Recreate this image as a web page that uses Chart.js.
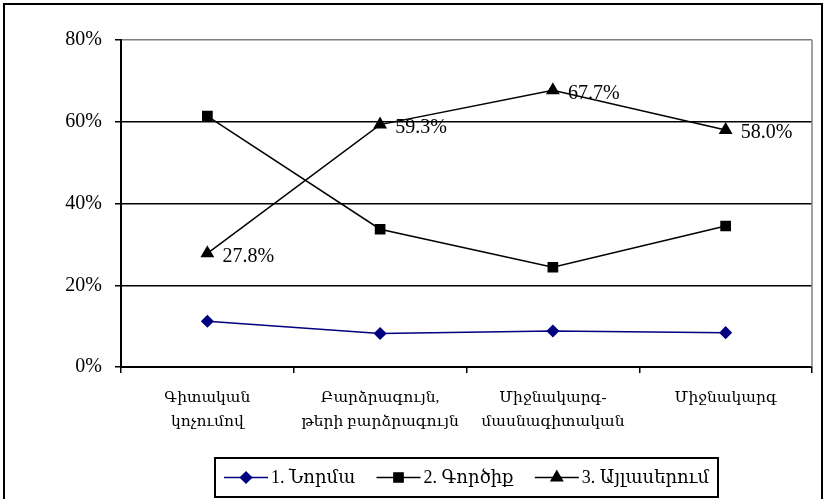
<!DOCTYPE html>
<html><head><meta charset="utf-8">
<script src="https://cdn.jsdelivr.net/npm/chart.js@4"></script>
<style>html,body{margin:0;padding:0;background:#fff}#wrap{width:824px;height:499px;position:relative}</style>
</head><body><div id="wrap"><canvas id="c"></canvas></div>
<script>
const categories = [["Գիտական","կոչումով"],["Բարձրագույն,","թերի բարձրագույն"],["Միջնակարգ-","մասնագիտական"],["Միջնակարգ"]];
const seriesNames = ["1. Նորմա","2. Գործիք","3. Այլասերում"];
const normaValues = [11.2, 8.2, 8.8, 8.4];
const gortsiqValues = [61.4, 33.7, 24.4, 34.5];
const aylaserumValues = [27.8, 59.3, 67.7, 58.0];
const yTicks = [0, 20, 40, 60, 80];

const SERIF = '"Liberation Serif", "DejaVu Serif", "Times New Roman", serif';
const NAVY = '#000080';

const valuePlugin = {
  id: 'vals',
  afterDatasetsDraw(chart) {
    const ctx = chart.ctx;
    const meta = chart.getDatasetMeta(2);
    ctx.save();
    ctx.font = '20px ' + SERIF;
    ctx.fillStyle = '#000';
    ctx.textBaseline = 'middle';
    ctx.textAlign = 'left';
    meta.data.forEach((pt, i) => {
      ctx.fillText(aylaserumValues[i].toFixed(1) + '%', pt.x + 15, pt.y + 3);
    });
    ctx.restore();
  }
};

const framePlugin = {
  id: 'frame',
  beforeDraw(chart) {
    const ctx = chart.ctx;
    ctx.save();
    ctx.fillStyle = '#fff';
    ctx.fillRect(0, 0, chart.width, chart.height);
    ctx.restore();
  },
  afterDraw(chart) {
    const ctx = chart.ctx;
    const a = chart.chartArea;
    ctx.save();
    ctx.strokeStyle = '#808080';
    ctx.lineWidth = 1.5;
    ctx.beginPath();
    ctx.moveTo(a.right, a.top);
    ctx.lineTo(a.right, a.bottom);
    ctx.stroke();
    ctx.strokeStyle = '#000';
    ctx.lineWidth = 2;
    ctx.strokeRect(4, 4, 818, 510);
    ctx.font = '18px ' + SERIF;
    ctx.textBaseline = 'middle';
    ctx.textAlign = 'left';
    const lineW = 44, gapT = 3, pad = 9, boxW = 503;
    const ds = chart.data.datasets;
    const widths = ds.map(d => ctx.measureText(d.label).width);
    let content = 0;
    widths.forEach(w => { content += lineW + gapT + w; });
    const gapE = (boxW - 2 * pad - content) / (ds.length - 1);
    const cx = (a.left + a.right) / 2;
    const bx = Math.round(cx - boxW / 2), by = 458, bh = 39;
    ctx.lineWidth = 2;
    ctx.strokeRect(bx, by, boxW, bh);
    let x = bx + pad;
    const y = by + bh / 2;
    ds.forEach((d, i) => {
      ctx.strokeStyle = d.borderColor;
      ctx.lineWidth = 1.5;
      ctx.beginPath();
      ctx.moveTo(x, y);
      ctx.lineTo(x + lineW, y);
      ctx.stroke();
      ctx.fillStyle = d.pointBackgroundColor;
      ctx.strokeStyle = d.pointBorderColor;
      Chart.helpers.drawPoint(ctx, {pointStyle: d.pointStyle, radius: d.pointRadius, borderWidth: 1}, x + lineW / 2, y);
      ctx.fillStyle = '#000';
      ctx.fillText(d.label, x + lineW + gapT, y + 1);
      x += lineW + gapT + widths[i] + gapE;
    });
    ctx.restore();
  }
};

new Chart(document.getElementById('c'), {
  type: 'line',
  data: {
    labels: categories,
    datasets: [
      {label: seriesNames[0], data: normaValues, borderColor: NAVY, backgroundColor: NAVY,
       pointBackgroundColor: NAVY, pointBorderColor: NAVY, pointStyle: 'rectRot', pointRadius: 5.5,
       borderWidth: 1.5, tension: 0, fill: false},
      {label: seriesNames[1], data: gortsiqValues, borderColor: '#000', backgroundColor: '#000',
       pointBackgroundColor: '#000', pointBorderColor: '#000', pointStyle: 'rect', pointRadius: 6.5,
       borderWidth: 1.5, tension: 0, fill: false},
      {label: seriesNames[2], data: aylaserumValues, borderColor: '#000', backgroundColor: '#000',
       pointBackgroundColor: '#000', pointBorderColor: '#000', pointStyle: 'triangle', pointRadius: 6.5,
       borderWidth: 1.5, tension: 0, fill: false}
    ]
  },
  options: {
    responsive: true,
    maintainAspectRatio: false,
    animation: false,
    layout: {padding: {left: 0, top: 40, right: 12, bottom: 0}},
    plugins: {legend: {display: false}, tooltip: {enabled: false}, title: {display: false}},
    scales: {
      x: {
        type: 'category',
        offset: true,
        grid: {offset: true, drawOnChartArea: false, drawTicks: true, tickLength: 6, color: '#000', lineWidth: 1.5},
        border: {display: true, color: '#000', width: 2},
        ticks: {font: {family: SERIF, size: 15.5, lineHeight: '24px'}, color: '#000', padding: 13, maxRotation: 0, autoSkip: false},
        afterFit(s) { s.height = 132; }
      },
      y: {
        min: 0, max: 80,
        afterBuildTicks(s) { s.ticks = yTicks.map(v => ({value: v})); },
        grid: {
          color: c => (c.tick && c.tick.value === 80) ? '#808080' : '#000',
          tickColor: '#000', lineWidth: 1.5, tickLength: 6, drawTicks: true
        },
        border: {display: true, color: '#000', width: 2},
        ticks: {font: {family: SERIF, size: 20}, color: '#000', padding: 13, callback: v => v + '%'},
        afterFit(s) { s.width = 121; }
      }
    }
  },
  plugins: [framePlugin, valuePlugin]
});
</script>
</body></html>
